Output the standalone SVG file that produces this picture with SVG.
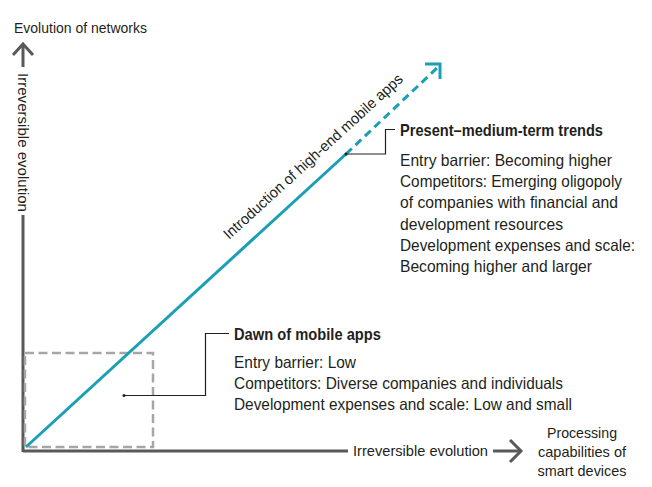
<svg xmlns="http://www.w3.org/2000/svg" width="652" height="487" viewBox="0 0 652 487">
  <style>
    text { font-family: "Liberation Sans", Arial, sans-serif; fill: #231f20; }
    .axis-label { font-size: 15px; }
    .body { font-size: 16.5px; }
    .title { font-size: 17px; font-weight: bold; }
    .axis { fill: none; stroke: #595959; stroke-width: 3; }
    .trend { fill: none; stroke: #1a9fb4; stroke-width: 3; }
    .leader { fill: none; stroke: #231f20; stroke-width: 1.2; }
    .zone { fill: none; stroke: #a6a6a6; stroke-width: 2.5; stroke-dasharray: 9 4.5; }
  </style>

  <!-- axes -->
  <g id="axes">
    <path class="axis" d="M23 451 H348 M493 451 H521"/>
    <path class="axis" d="M510 440 L521 451 L510 462"/>
    <path class="axis" d="M23 452 V215 M23 67 V45"/>
    <path class="axis" d="M13 55 L23 44 L33 55"/>
    <text class="axis-label" x="14" y="33" textLength="133" lengthAdjust="spacingAndGlyphs">Evolution of networks</text>
    <text class="axis-label" x="18" y="73" transform="rotate(90 18 73)" textLength="139" lengthAdjust="spacingAndGlyphs">Irreversible evolution</text>
    <text class="axis-label" x="353" y="456" textLength="135" lengthAdjust="spacingAndGlyphs">Irreversible evolution</text>
    <text class="axis-label" x="547" y="438" textLength="70" lengthAdjust="spacingAndGlyphs">Processing</text>
    <text class="axis-label" x="538" y="457" textLength="88" lengthAdjust="spacingAndGlyphs">capabilities of</text>
    <text class="axis-label" x="537.5" y="476" textLength="89" lengthAdjust="spacingAndGlyphs">smart devices</text>
  </g>

  <!-- early-stage zone -->
  <g id="dawn-zone">
    <rect class="zone" x="25" y="353" width="128" height="94"/>
  </g>

  <!-- trend line -->
  <g id="trend">
    <path class="trend" d="M26 447 L346 154"/>
    <path class="trend" d="M346 154 L437 68" stroke-dasharray="8 5"/>
    <path class="trend" d="M425 64 H440 V79"/>
    <text class="axis-label" x="229" y="240" transform="rotate(-42.4 229 240)" textLength="237" lengthAdjust="spacingAndGlyphs">Introduction of high-end mobile apps</text>
  </g>

  <!-- callout leaders -->
  <g id="connectors">
    <circle cx="124" cy="395.5" r="1.5" fill="#231f20"/>
    <path class="leader" d="M124 395.5 H205.5 V333.5 H229"/>
    <circle cx="346" cy="154" r="1.5" fill="#231f20"/>
    <path class="leader" d="M346 154 H385.5 V129.5 H395"/>
  </g>

  <!-- dawn of mobile apps -->
  <g id="dawn">
    <text class="title" x="234" y="340" textLength="147" lengthAdjust="spacingAndGlyphs">Dawn of mobile apps</text>
    <text class="body" x="234" y="368" textLength="122" lengthAdjust="spacingAndGlyphs">Entry barrier: Low</text>
    <text class="body" x="234" y="389" textLength="329" lengthAdjust="spacingAndGlyphs">Competitors: Diverse companies and individuals</text>
    <text class="body" x="234" y="410" textLength="338" lengthAdjust="spacingAndGlyphs">Development expenses and scale: Low and small</text>
  </g>

  <!-- present to medium-term -->
  <g id="present">
    <text class="title" x="400" y="136" textLength="203" lengthAdjust="spacingAndGlyphs">Present–medium-term trends</text>
    <text class="body" x="400" y="166" textLength="212" lengthAdjust="spacingAndGlyphs">Entry barrier: Becoming higher</text>
    <text class="body" x="400" y="187.2" textLength="222" lengthAdjust="spacingAndGlyphs">Competitors: Emerging oligopoly</text>
    <text class="body" x="400" y="208.4" textLength="218" lengthAdjust="spacingAndGlyphs">of companies with financial and</text>
    <text class="body" x="400" y="229.6" textLength="163" lengthAdjust="spacingAndGlyphs">development resources</text>
    <text class="body" x="400" y="250.8" textLength="235" lengthAdjust="spacingAndGlyphs">Development expenses and scale:</text>
    <text class="body" x="400" y="272" textLength="192" lengthAdjust="spacingAndGlyphs">Becoming higher and larger</text>
  </g>
</svg>
